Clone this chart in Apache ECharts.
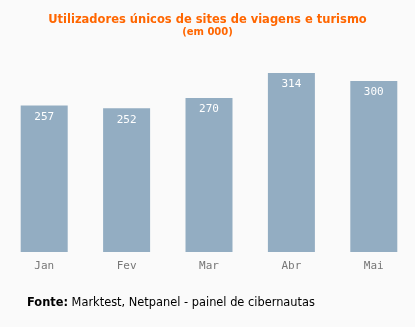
<!DOCTYPE html>
<html>
<head>
<meta charset="utf-8">
<script src="https://cdn.jsdelivr.net/npm/echarts@6/dist/echarts.min.js"></script>
<style>
  html, body { margin: 0; padding: 0; background: #fafafa; }
  #chart { width: 415px; height: 327px; }
</style>
</head>
<body>
<div id="chart"></div>
<script>
// Monthly unique users of travel & tourism sites (thousands)
const months = ['Jan', 'Fev', 'Mar', 'Abr', 'Mai'];
const users = [257, 252, 270, 314, 300];

const titleText = 'Utilizadores únicos de sites de viagens e turismo';
const subtitleText = '(em 000)';
const sourceLabel = 'Fonte:';
const sourceText = ' Marktest, Netpanel - painel de cibernautas';

const chart = echarts.init(document.getElementById('chart'));
chart.setOption({
  backgroundColor: '#fafafa',
  animation: false,
  title: {
    text: titleText,
    subtext: subtitleText,
    left: 'center',
    top: 9,
    itemGap: 1,
    textStyle: { color: '#ff6600', fontSize: 11.5, fontWeight: 'bold', fontFamily: 'DejaVu Sans' },
    subtextStyle: { color: '#ff6600', fontSize: 10, fontWeight: 'bold', fontFamily: 'DejaVu Sans' }
  },
  grid: { left: 3, right: 0, top: 52.5, bottom: 75, containLabel: false },
  xAxis: {
    type: 'category',
    data: months,
    axisLine: { show: false },
    axisTick: { show: false },
    axisLabel: { color: '#777', fontSize: 11, fontFamily: 'DejaVu Sans Mono', margin: 9 }
  },
  yAxis: {
    type: 'value',
    min: 0,
    max: 350,
    show: false,
    splitLine: { show: false }
  },
  series: [{
    type: 'bar',
    data: users,
    barWidth: 47,
    itemStyle: { color: '#93adc2' },
    label: {
      show: true,
      position: 'insideTop',
      distance: 6,
      color: '#fff',
      fontSize: 11,
      fontFamily: 'DejaVu Sans Mono'
    }
  }],
  graphic: [{
    type: 'text',
    left: 27,
    top: 298,
    style: {
      text: '{b|' + sourceLabel + '}' + sourceText,
      fill: '#000',
      font: '11.4px "DejaVu Sans"',
      rich: {
        b: { fontWeight: 'bold', fontSize: 11.4, fontFamily: 'DejaVu Sans', fill: '#000' }
      }
    }
  }]
});
</script>
</body>
</html>
